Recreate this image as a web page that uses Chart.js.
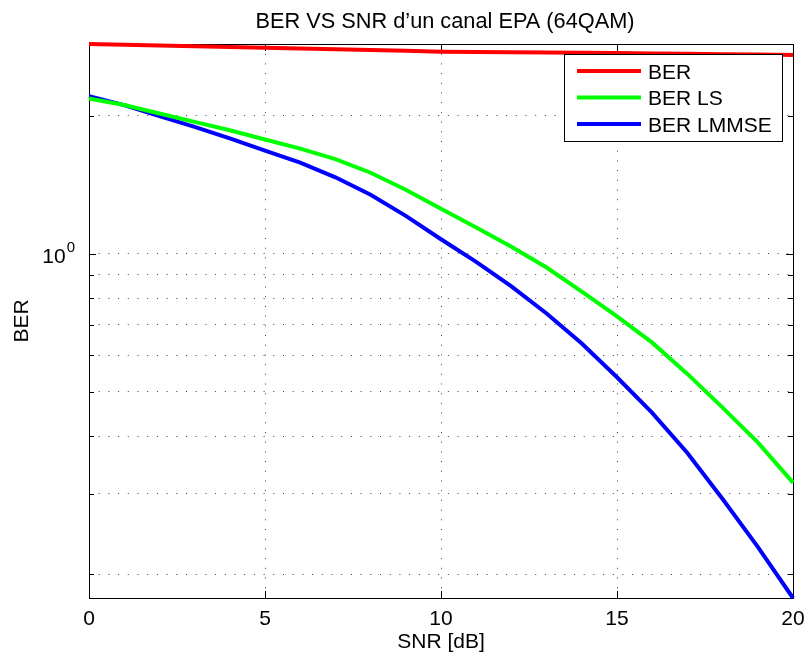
<!DOCTYPE html>
<html>
<head>
<meta charset="utf-8">
<title>BER VS SNR</title>
<script src="https://cdn.jsdelivr.net/npm/chart.js@4.4.0/dist/chart.umd.min.js"></script>
<style>
    html, body { margin: 0; padding: 0; background: #fff; }
    #wrap { width: 807px; height: 655px; }
</style>
</head>
<body>
<div id="wrap"><canvas id="myChart" width="807" height="655"></canvas></div>
<script>
// Valeurs
const snr = [0, 1, 2, 3, 4, 5, 6, 7, 8, 9, 10, 11, 12, 13, 14, 15, 16, 17, 18, 19, 20];
const berBrut = [2.864, 2.854, 2.843, 2.833, 2.822, 2.812, 2.800, 2.789, 2.778, 2.767, 2.756,
                 2.752, 2.749, 2.745, 2.741, 2.738, 2.732, 2.727, 2.721, 2.716, 2.710];
const berLS = [2.178, 2.108, 2.021, 1.938, 1.858, 1.774, 1.694, 1.607, 1.501, 1.378, 1.253,
               1.141, 1.035, 0.933, 0.827, 0.730, 0.640, 0.547, 0.462, 0.388, 0.317];
const berLMMSE = [2.205, 2.108, 1.994, 1.890, 1.783, 1.677, 1.579, 1.467, 1.344, 1.209, 1.075,
                  0.960, 0.849, 0.741, 0.637, 0.538, 0.450, 0.368, 0.292, 0.2296, 0.1777];
const seriesNames = ['BER', 'BER LS', 'BER LMMSE'];
const xTicks = [0, 5, 10, 15, 20];
const yTicks = [0.2, 0.3, 0.4, 0.5, 0.6, 0.7, 0.8, 0.9, 1, 2];
const yMin = 0.1777;
const yMax = 2.864;

const fontName = '"Liberation Sans", Arial, Helvetica, sans-serif';

function toPoints(values) {
    return snr.map((x, i) => ({ x: x, y: values[i] }));
}

// Boite, graduations, textes et legende facon MATLAB
const matlabAxes = {
    id: 'matlabAxes',
    beforeDatasetsDraw(chart) {
        const ctx = chart.ctx;
        const a = chart.chartArea;
        const xs = chart.scales.x;
        const ys = chart.scales.y;
        ctx.save();
        ctx.strokeStyle = '#000';
        ctx.lineWidth = 1;
        ctx.strokeRect(a.left + 0.5, a.top + 0.5, a.right - a.left, a.bottom - a.top);

        ctx.beginPath();
        xTicks.forEach(v => {
            const px = Math.round(xs.getPixelForValue(v)) + 0.5;
            ctx.moveTo(px, a.bottom);
            ctx.lineTo(px, a.bottom - 7);
            ctx.moveTo(px, a.top);
            ctx.lineTo(px, a.top + 7);
        });
        yTicks.forEach(v => {
            const py = Math.round(ys.getPixelForValue(v)) + 0.5;
            const len = v === 1 ? 7 : 5;
            ctx.moveTo(a.left, py);
            ctx.lineTo(a.left + len, py);
            ctx.moveTo(a.right, py);
            ctx.lineTo(a.right - len, py);
        });
        ctx.stroke();

        ctx.fillStyle = '#000';
        // titre
        ctx.font = '21.75px ' + fontName;
        ctx.textAlign = 'center';
        ctx.textBaseline = 'alphabetic';
        ctx.fillText('BER VS SNR d\u2019un canal EPA (64QAM)', (a.left + a.right) / 2 + 4, 28);

        // etiquettes de l'axe x
        ctx.font = '21px ' + fontName;
        xTicks.forEach(v => {
            ctx.fillText(String(v), xs.getPixelForValue(v), a.bottom + 27);
        });
        ctx.fillText('SNR [dB]', (a.left + a.right) / 2, a.bottom + 50);

        // etiquette 10^0
        const y1 = ys.getPixelForValue(1);
        ctx.textAlign = 'right';
        ctx.font = '15px ' + fontName;
        ctx.fillText('0', a.left - 14, y1 - 2);
        const w0 = ctx.measureText('0').width;
        ctx.font = '21px ' + fontName;
        ctx.fillText('10', a.left - 14 - w0 - 1, y1 + 9);

        // titre de l'axe y
        ctx.save();
        ctx.translate(28, (a.top + a.bottom) / 2);
        ctx.rotate(-Math.PI / 2);
        ctx.textAlign = 'center';
        ctx.fillText('BER', 0, 0);
        ctx.restore();
        ctx.restore();
    },
    afterDatasetsDraw(chart) {
        const ctx = chart.ctx;
        const a = chart.chartArea;
        const left = a.right - 229;
        const top = a.top + 10;
        ctx.save();
        ctx.fillStyle = '#fff';
        ctx.fillRect(left, top, 218, 87);
        ctx.strokeStyle = '#000';
        ctx.lineWidth = 1;
        ctx.strokeRect(left + 0.5, top + 0.5, 218, 87);
        ctx.font = '21px ' + fontName;
        ctx.textAlign = 'left';
        ctx.textBaseline = 'alphabetic';
        chart.data.datasets.forEach((ds, i) => {
            const y = top + 17 + i * 26.5;
            ctx.strokeStyle = ds.borderColor;
            ctx.lineWidth = 4;
            ctx.beginPath();
            ctx.moveTo(left + 13, y);
            ctx.lineTo(left + 77, y);
            ctx.stroke();
            ctx.fillStyle = '#000';
            ctx.fillText(ds.label, left + 84, y + 7.5);
        });
        ctx.restore();
    }
};

const ctx = document.getElementById('myChart').getContext('2d');

const myChart = new Chart(ctx, {
    type: 'line',
    data: {
        datasets: [
            { label: seriesNames[0], data: toPoints(berBrut), borderColor: '#ff0000' },
            { label: seriesNames[1], data: toPoints(berLS), borderColor: '#00ff00' },
            { label: seriesNames[2], data: toPoints(berLMMSE), borderColor: '#0000ff' }
        ]
    },
    options: {
        responsive: false,
        animation: false,
        events: [],
        devicePixelRatio: 1,
        layout: { padding: { left: 89, right: 14, top: 44, bottom: 57 } },
        elements: {
            line: { borderWidth: 4, tension: 0, fill: false },
            point: { radius: 0 }
        },
        datasets: { line: { clip: false } },
        plugins: {
            legend: { display: false },
            title: { display: false },
            tooltip: { enabled: false }
        },
        scales: {
            x: {
                type: 'linear',
                min: 0,
                max: 20,
                ticks: { display: false, stepSize: 5 },
                grid: { color: 'rgba(0,0,0,0.75)', lineWidth: 1, drawTicks: false, tickLength: 0 },
                border: { display: false, dash: [1, 8.7] }
            },
            y: {
                type: 'logarithmic',
                min: yMin,
                max: yMax,
                afterBuildTicks: axis => {
                    axis.ticks = yTicks.map(v => ({ value: v }));
                },
                ticks: { display: false },
                grid: { color: 'rgba(0,0,0,0.75)', lineWidth: 1, drawTicks: false, tickLength: 0 },
                border: { display: false, dash: [1, 8.7] }
            }
        }
    },
    plugins: [matlabAxes]
});
</script>
</body>
</html>
